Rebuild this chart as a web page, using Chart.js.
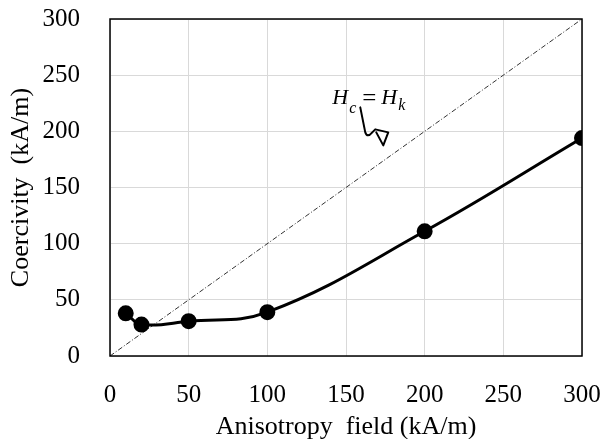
<!DOCTYPE html>
<html lang="en">
<head>
    <meta charset="UTF-8">
    <title>Coercivity vs anisotropy field</title>
    <script src="https://cdn.jsdelivr.net/npm/chart.js"></script>
    <style>
        html, body { margin: 0; padding: 0; background: #fff; }
        #wrap { width: 600px; height: 439px; }
    </style>
</head>
<body>
    <div id="wrap"><canvas id="chart"></canvas></div>

    <script>
        // Data
        const anisotropyField = [10, 20, 50, 100, 200, 300];
        const coercivity = [38, 28, 31, 39, 111, 194];
        const refLineX = [0, 300];   // Hc = Hk
        const axisTicks = [0, 50, 100, 150, 200, 250, 300];

        const serif = "'Liberation Serif', 'DejaVu Serif', serif";

        // Frame box + Hc = Hk label with its squiggly pointer
        const decorations = {
            id: 'decorations',
            afterDraw(chart) {
                const { ctx, chartArea: a, scales } = chart;
                ctx.save();
                ctx.strokeStyle = '#000';
                ctx.lineWidth = 1.5;
                ctx.strokeRect(a.left, a.top, a.right - a.left, a.bottom - a.top);

                // label anchored at (140, 224) in data units
                const px = scales.x.getPixelForValue(140);
                const py = scales.y.getPixelForValue(224);
                ctx.fillStyle = '#000';
                ctx.textBaseline = 'alphabetic';
                ctx.font = 'italic 22px ' + serif;
                ctx.fillText('H', px + 2, py);
                ctx.fillText('H', px + 51, py);
                ctx.font = 'italic 16px ' + serif;
                ctx.fillText('c', px + 19, py + 9);
                ctx.fillText('k', px + 68, py + 6);
                ctx.font = '25px ' + serif;
                ctx.fillText('=', px + 32, py + 2);

                // squiggle pointer
                ctx.lineWidth = 2;
                ctx.lineJoin = 'round';
                ctx.lineCap = 'round';
                ctx.beginPath();
                ctx.moveTo(px + 30, py + 3);
                ctx.lineTo(px + 35, py + 28);
                ctx.quadraticCurveTo(px + 37, py + 34, px + 42, py + 28);
                ctx.lineTo(px + 45, py + 25);
                ctx.lineTo(px + 58, py + 28);
                ctx.lineTo(px + 53, py + 41);
                ctx.lineTo(px + 46, py + 28);
                ctx.stroke();
                ctx.restore();
            }
        };

        const ctx = document.getElementById('chart').getContext('2d');
        new Chart(ctx, {
            type: 'line',
            data: {
                datasets: [
                    {
                        label: 'Coercivity',
                        data: anisotropyField.map((x, i) => ({ x: x, y: coercivity[i] })),
                        borderColor: '#000',
                        backgroundColor: '#000',
                        borderWidth: 3,
                        pointRadius: 6.5,
                        pointHoverRadius: 6.5,
                        tension: 0.4,
                        fill: false
                    },
                    {
                        label: 'Hc = Hk',
                        data: refLineX.map(x => ({ x: x, y: x })),
                        borderColor: '#333',
                        borderWidth: 1,
                        borderDash: [5, 2, 1, 2],
                        pointRadius: 0,
                        fill: false
                    }
                ]
            },
            options: {
                responsive: true,
                maintainAspectRatio: false,
                animation: false,
                layout: { padding: { left: 6, right: 0, top: 0, bottom: 0 } },
                plugins: {
                    legend: { display: false },
                    tooltip: { enabled: false }
                },
                scales: {
                    x: {
                        type: 'linear',
                        min: 0,
                        max: 300,
                        afterBuildTicks: axis => { axis.ticks = axisTicks.map(v => ({ value: v })); },
                        afterFit: axis => {
                            axis.height = 83;
                            axis.paddingLeft = 0;
                            axis.paddingRight = 18;
                        },
                        grid: { color: '#d9d9d9', lineWidth: 1, drawTicks: false },
                        border: { display: false },
                        ticks: { color: '#000', padding: 24, maxRotation: 0, font: { family: serif, size: 25 } },
                        title: {
                            display: true,
                            text: 'Anisotropy  field (kA/m)',
                            color: '#000',
                            padding: { top: 0, bottom: -4 },
                            font: { family: serif, size: 26 }
                        }
                    },
                    y: {
                        type: 'linear',
                        min: 0,
                        max: 300,
                        afterBuildTicks: axis => { axis.ticks = axisTicks.map(v => ({ value: v })); },
                        afterFit: axis => {
                            axis.width = 104;
                            axis.paddingTop = 19;
                            axis.paddingBottom = 0;
                        },
                        grid: { color: '#d9d9d9', lineWidth: 1, drawTicks: false },
                        border: { display: false },
                        ticks: { color: '#000', padding: 30, font: { family: serif, size: 25 } },
                        title: {
                            display: true,
                            text: 'Coercivity  (kA/m)',
                            color: '#000',
                            padding: { top: 0, bottom: 0 },
                            font: { family: serif, size: 26 }
                        }
                    }
                }
            },
            plugins: [decorations]
        });
    </script>
</body>
</html>
